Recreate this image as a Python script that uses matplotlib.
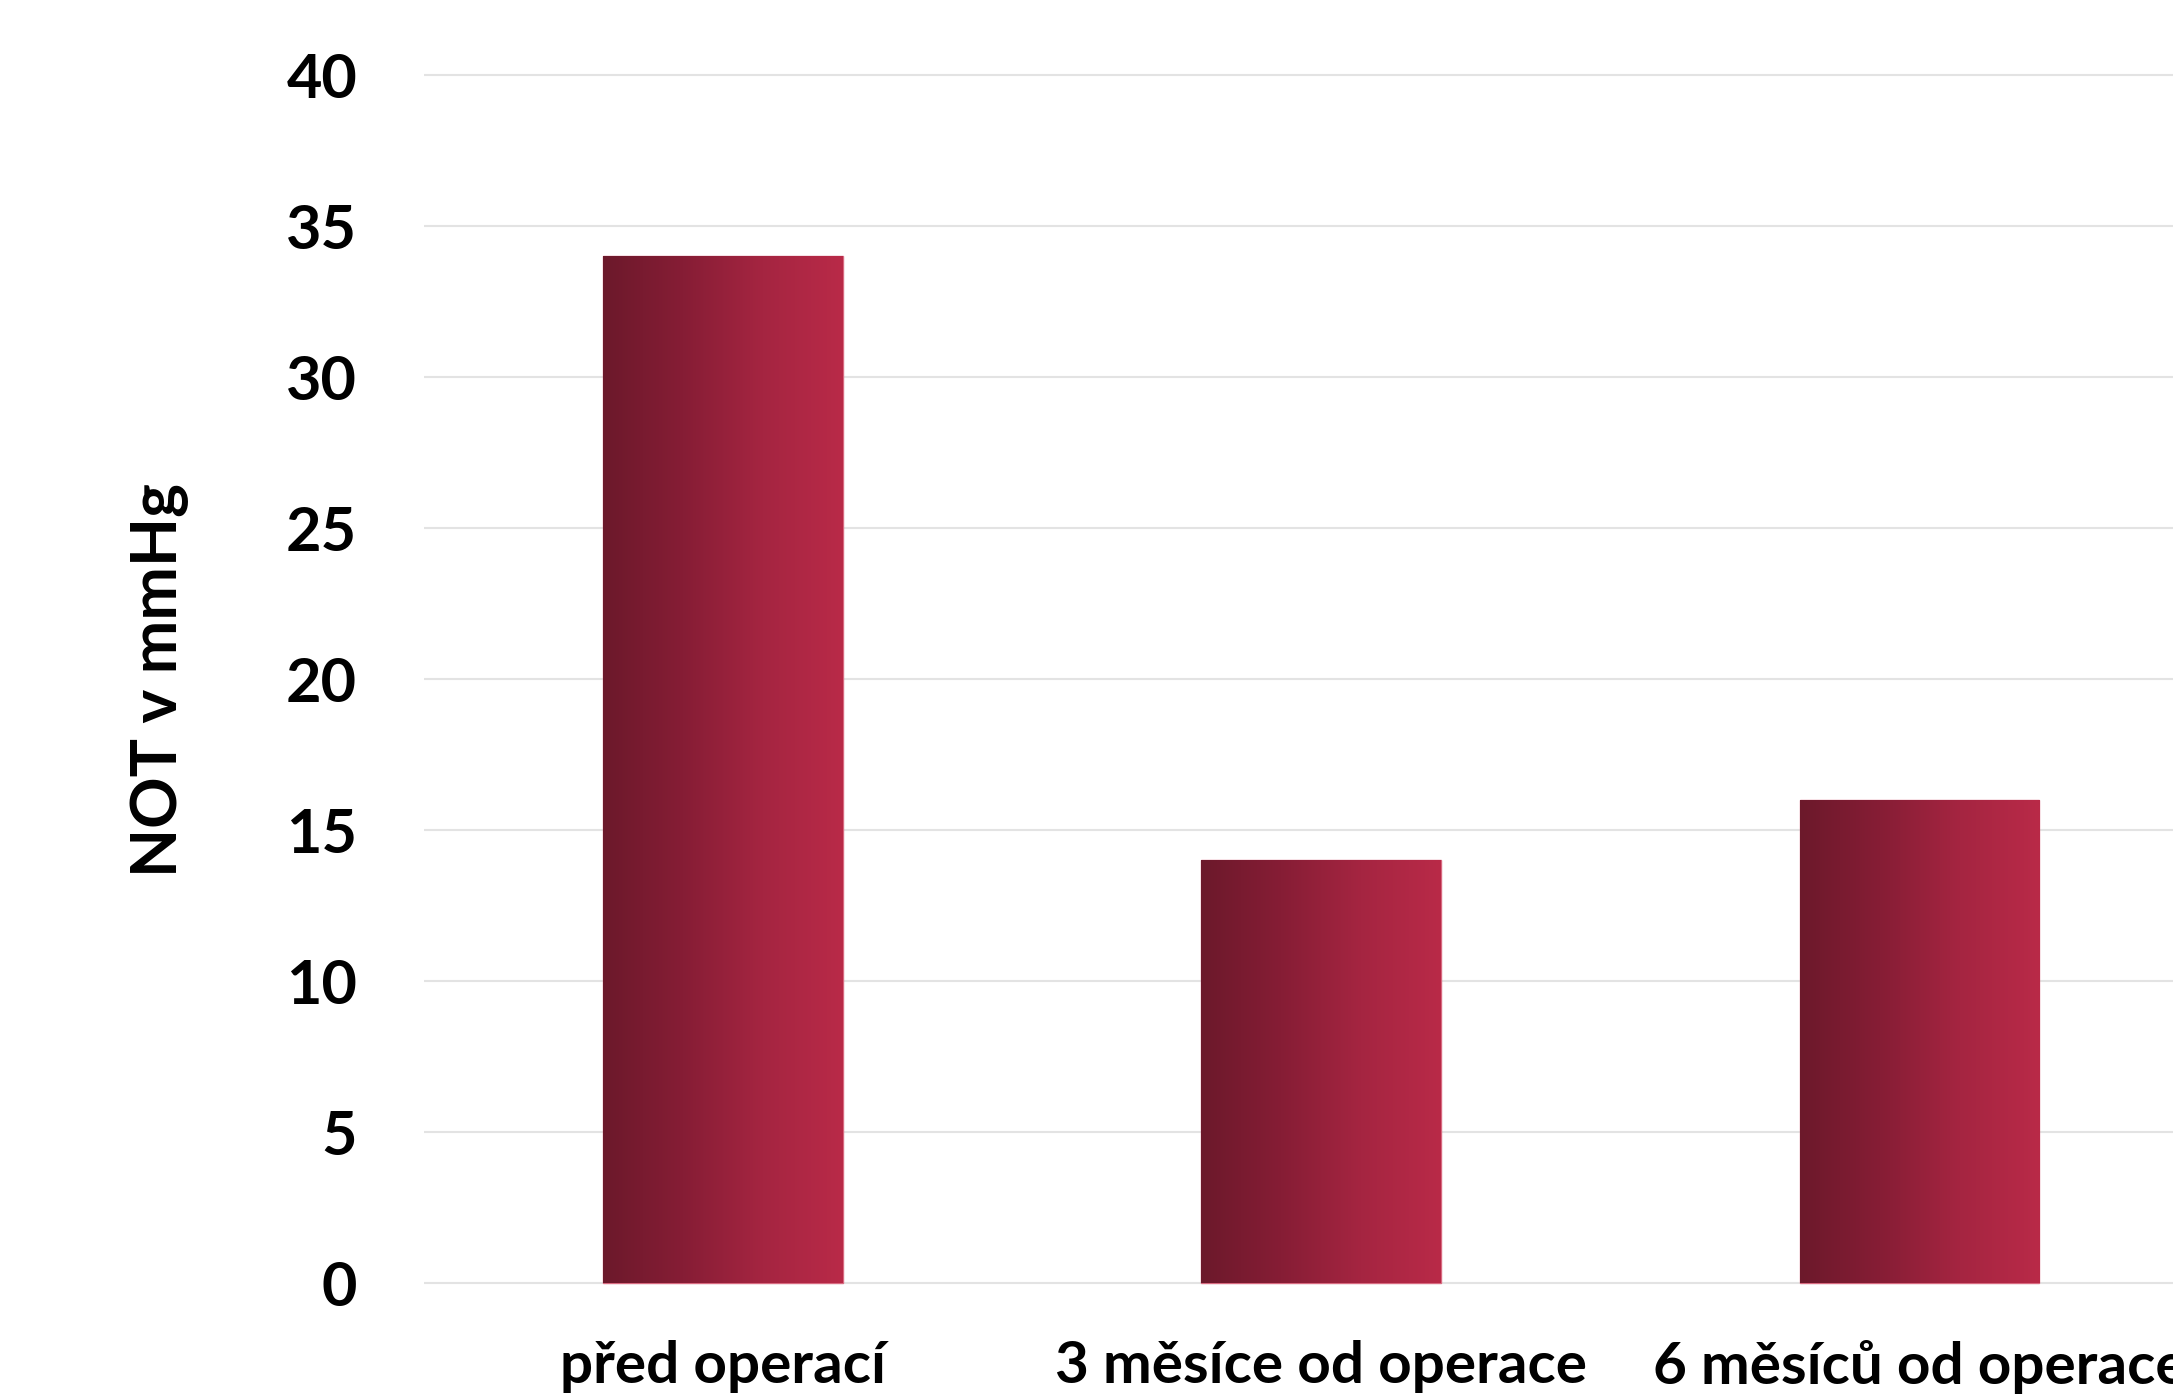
import numpy as np
import matplotlib.pyplot as plt
from matplotlib.colors import LinearSegmentedColormap

categories = ["před operací", "3 měsíce od operace", "6 měsíců od operace"]
values = [34, 14, 16]
y_ticks = [0, 5, 10, 15, 20, 25, 30, 35, 40]

plt.rcParams['font.family'] = ['Lato', 'DejaVu Sans']

fig = plt.figure(figsize=(21.73, 13.97), dpi=100)
ax = fig.add_axes([0.195, 0.0805, 0.805, 0.8669])

x = np.arange(len(categories))
bars = ax.bar(x, values, width=0.4, color='#b82a47', edgecolor='#d86a80', linewidth=1, zorder=2)

# left-to-right gradient inside every bar
grad = LinearSegmentedColormap.from_list('bar', ['#6c192b', '#861d35', '#a52541', '#b92a48'])
ramp = np.linspace(0, 1, 256).reshape(1, -1)
for b in bars:
    x0, y0 = b.get_x(), b.get_y()
    im = ax.imshow(ramp, cmap=grad, aspect='auto', zorder=3,
                   extent=[x0, x0 + b.get_width(), y0, y0 + b.get_height()])
    im.set_clip_path(b)

ax.set_xlim(-0.5, 2.424)
ax.set_ylim(-0.05, 40.05)
ax.set_yticks(y_ticks)
ax.set_xticks(x)
ax.set_xticklabels(categories)
ax.grid(axis='y', color='#e3e3e3', linewidth=1.5, zorder=0)
ax.set_axisbelow(True)
for s in ax.spines.values():
    s.set_visible(False)
ax.tick_params(axis='both', length=0)
ax.tick_params(axis='y', pad=48, labelsize=44)
ax.tick_params(axis='x', pad=40, labelsize=42)
for t in ax.get_xticklabels() + ax.get_yticklabels():
    t.set_fontweight('bold')

fig.text(160 / 2173, 0.513, "NOT v mmHg", rotation=90, ha='center', va='center',
         fontsize=46, fontweight='bold')

fig.savefig('out.png', dpi=100)
